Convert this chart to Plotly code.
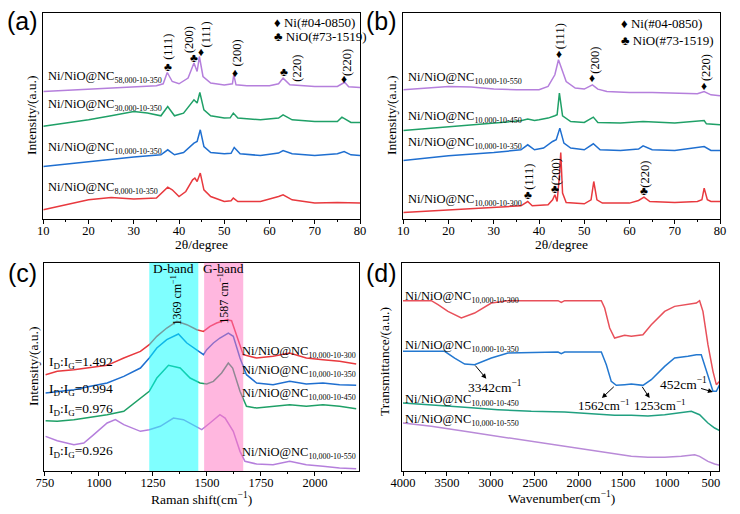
import plotly.graph_objects as go

W, H = 740, 514
FONT = "Times New Roman, Liberation Serif, serif"

# ---------------- Panel (a): XRD, different molecular weights ----------------
a58_x = [10, 15, 20, 25, 30, 35, 36.5, 37.4, 38.5, 40, 42, 43.3, 44.0, 44.5, 45.3, 47, 50, 51.8, 52.1, 52.6, 55, 60, 62, 63, 64.5, 70, 75, 76, 76.6, 77.5, 80]
a58_y = [127.8, 129, 130.2, 131.2, 132.2, 133.5, 135.5, 146.8, 137.8, 135.5, 141.2, 156.2, 147.8, 162.8, 142.8, 136.2, 134.2, 135.5, 144.5, 134.5, 133.5, 133.5, 135.5, 141.2, 134.5, 132.8, 132.8, 135.5, 137, 132.5, 131.8]
a30_x = [10, 15, 20, 25, 30, 33, 36, 37.5, 39, 41, 43.3, 44.0, 44.6, 45.5, 47, 50, 51.3, 52, 53, 58, 62, 63, 65, 70, 75, 76, 78, 80]
a30_y = [93, 96.2, 99.5, 103.5, 107.8, 106.2, 103.5, 112.8, 103.5, 106.2, 119.5, 116.2, 126.8, 109.5, 103.5, 101.2, 101.5, 106.2, 101.2, 99.5, 101.2, 104.5, 99.5, 97.8, 97.8, 102.2, 96.8, 96.8]
a10_x = [10, 20, 30, 36, 37.5, 39, 41, 43.3, 44.0, 44.7, 45.5, 47, 50, 51.5, 52.2, 53.5, 58, 62, 63, 65, 70, 75, 76.5, 78, 80]
a10_y = [52.8, 57.8, 62.2, 64.5, 69.5, 64.5, 66.8, 76.2, 77.8, 89.5, 72.8, 66.8, 65.5, 66, 71.8, 65.5, 63.8, 66.2, 68.8, 65.5, 63.8, 65.5, 67.8, 64.5, 63.8]
a8_x = [10, 15, 20, 25, 30, 35, 36.5, 37.5, 38.5, 40, 41.5, 43, 43.5, 44.0, 44.7, 45.5, 47, 50, 51.5, 52, 53, 58, 62, 63, 65, 70, 75, 80]
a8_y = [9.5, 14.5, 19.5, 21.8, 20.2, 21.2, 27.8, 32.2, 29.5, 22.8, 27.8, 39.5, 41.2, 37.8, 46.2, 29.5, 22.8, 17.8, 18.5, 21.2, 17.8, 17.8, 22.8, 24.5, 19.5, 16.2, 16.8, 16.2]
a_names = ["58,000-10-350", "30,000-10-350", "10,000-10-350", "8,000-10-350"]
a_label_y = [142.8, 114.5, 71.2, 31.2]

# ---------------- Panel (b): XRD, different temperatures ----------------
b550_x = [10, 15, 20, 25, 30, 35, 40, 42, 43.5, 44.3, 45, 46, 48, 50, 51.8, 53, 55, 60, 65, 70, 75, 76.5, 78, 80]
b550_y = [129.5, 131.2, 132.8, 132.2, 130.2, 129.5, 129.5, 132.8, 144.5, 159.5, 151.2, 137.8, 131.2, 130.2, 134.5, 130.2, 127.8, 126.8, 126.8, 126.2, 125.5, 127.8, 124.5, 123.5]
b450_x = [10, 20, 30, 36, 37.5, 39, 40, 42, 43.5, 44.0, 44.5, 45.2, 47, 50, 52, 53, 58, 63, 70, 76.5, 77, 80]
b450_y = [88.8, 92.8, 96.2, 98.5, 100.2, 98.8, 99.5, 101.2, 103.5, 104.5, 126.2, 103.5, 97.8, 96.8, 102.2, 96.8, 96.2, 97.8, 96.2, 98.8, 95.5, 94.5]
b350_x = [10, 20, 30, 36, 37.5, 39, 41, 43, 43.8, 44.6, 45.5, 47, 50, 52, 53.5, 58, 62, 63, 65, 70, 76.5, 78, 80]
b350_y = [58.8, 63.5, 66.8, 69.5, 74.5, 69.5, 71.2, 77.8, 79.5, 91.2, 76.2, 71.2, 69.5, 75.5, 69.5, 68.8, 70.2, 73.5, 69.5, 68.8, 72.8, 68.8, 68.8]
b300_x = [10, 20, 30, 36, 37.5, 38.5, 42, 43, 43.5, 44, 44.5, 44.8, 45.2, 46, 50, 51.5, 52.1, 52.8, 54, 60, 62, 63.2, 64.5, 70, 75, 76, 76.5, 77.2, 78, 80]
b300_y = [6.8, 9.5, 12.2, 13.5, 17.8, 13.5, 14.5, 19.5, 24.5, 17.8, 42.8, 66.8, 26.2, 16.8, 15.5, 19.5, 37.8, 19.5, 16.2, 16.2, 18.8, 22.2, 17.8, 16.8, 17.8, 19.5, 31.2, 19.5, 17.8, 17.8]
b_names = ["10,000-10-550", "10,000-10-450", "10,000-10-350", "10,000-10-300"]
b_label_y = [141.2, 102.2, 76.2, 19.5]

# ---------------- Panel (c): Raman ----------------
c300_x = [753, 807, 884, 961, 1038, 1115, 1192, 1233, 1268, 1314, 1361, 1407, 1453, 1484, 1514, 1545, 1591, 1614, 1637, 1668, 1730, 1806, 1883, 1960, 2037, 2114, 2191]
c300_y = [286, 296, 301, 308, 314, 336, 356, 376, 401, 426, 446, 436, 421, 416, 431, 441, 451, 448, 406, 346, 336, 341, 351, 336, 331, 326, 318]
c350_x = [753, 807, 884, 961, 1038, 1115, 1192, 1233, 1268, 1314, 1368, 1407, 1453, 1484, 1499, 1530, 1560, 1599, 1622, 1653, 1683, 1730, 1806, 1883, 1960, 2037, 2114, 2191]
c350_y = [231, 236, 241, 251, 261, 281, 306, 336, 366, 391, 408, 381, 361, 346, 361, 381, 396, 411, 401, 336, 286, 261, 256, 266, 258, 261, 256, 254]
c450_x = [753, 807, 884, 961, 1038, 1115, 1192, 1233, 1268, 1322, 1376, 1422, 1468, 1499, 1530, 1568, 1599, 1619, 1653, 1683, 1730, 1806, 1883, 1960, 2037, 2114, 2191]
c450_y = [148, 146, 151, 158, 166, 176, 216, 236, 276, 314, 306, 276, 261, 258, 266, 291, 321, 306, 236, 191, 186, 191, 196, 191, 196, 191, 184]
c550_x = [753, 807, 884, 930, 976, 1038, 1076, 1115, 1192, 1233, 1284, 1345, 1391, 1437, 1476, 1514, 1560, 1584, 1622, 1653, 1676, 1730, 1806, 1883, 1960, 2037, 2114, 2191]
c550_y = [101, 88, 76, 81, 106, 141, 151, 136, 116, 121, 131, 156, 151, 136, 121, 141, 166, 156, 116, 56, 26, 18, 16, 26, 16, 11, 6, 4]
c_names = ["10,000-10-300", "10,000-10-350", "10,000-10-450", "10,000-10-550"]
c_label_y = [353, 296, 228, 51]
c_ratio = ["1.492", "0.994", "0.976", "0.926"]
c_ratio_y = [324, 243, 181, 56]
d_band = [1233, 1460]
g_band = [1487, 1668]

# ---------------- Panel (d): FTIR ----------------
d300_x = [4000, 3678, 3602, 3489, 3337, 3186, 2996, 2807, 2238, 2201, 2163, 1746, 1708, 1651, 1595, 1481, 1405, 1273, 1178, 1026, 913, 761, 666, 629, 591, 534, 477, 439, 401]
d300_y = [508, 508, 496, 476, 456, 471, 501, 508, 508, 503, 508, 508, 486, 426, 396, 404, 401, 406, 436, 476, 491, 496, 501, 508, 476, 376, 296, 256, 266]
d350_x = [4000, 3527, 3413, 3299, 3186, 2996, 2807, 2238, 2201, 2163, 1746, 1689, 1633, 1576, 1481, 1405, 1273, 1178, 1026, 913, 761, 666, 610, 553, 477, 439, 401]
d350_y = [356, 356, 336, 318, 316, 336, 351, 354, 349, 354, 354, 316, 266, 254, 256, 258, 254, 271, 311, 336, 341, 346, 346, 296, 236, 236, 256]
d450_x = [4000, 3678, 3299, 2920, 2542, 2163, 1973, 1784, 1595, 1405, 1216, 1026, 837, 723, 629, 534, 458, 401]
d450_y = [201, 196, 188, 181, 176, 174, 171, 168, 164, 164, 162, 166, 171, 176, 166, 141, 126, 118]
d550_x = [4000, 3678, 3299, 2920, 2542, 2163, 1784, 1595, 1405, 1216, 1026, 837, 685, 629, 534, 458, 401]
d550_y = [141, 131, 116, 101, 86, 71, 56, 48, 41, 38, 38, 41, 46, 41, 26, 18, 14]
d_names = ["10,000-10-300", "10,000-10-350", "10,000-10-450", "10,000-10-550"]
d_label_y = [518, 371, 211, 151]

COLORS = ["#b57fdc", "#1fa067", "#1f6fd0", "#e8393e"]  # purple, green, blue, red
D_COLORS = {"300": "#e8505a", "350": "#2378d0", "450": "#20a080", "550": "#b98ad8"}

fig = go.Figure()

def add_line(x, y, color, ax):
    fig.add_trace(go.Scatter(x=x, y=y, mode="lines", line=dict(color=color, width=1.5),
                             xaxis="x" + ax, yaxis="y" + ax, showlegend=False, hoverinfo="skip"))

for (x, y), col in zip([(a58_x, a58_y), (a30_x, a30_y), (a10_x, a10_y), (a8_x, a8_y)], COLORS):
    add_line(x, y, col, "")
for (x, y), col in zip([(b550_x, b550_y), (b450_x, b450_y), (b350_x, b350_y), (b300_x, b300_y)], COLORS):
    add_line(x, y, col, "2")
for (x, y), col in zip([(c300_x, c300_y), (c350_x, c350_y), (c450_x, c450_y), (c550_x, c550_y)], COLORS[::-1]):
    add_line(x, y, col, "3")
for (x, y), col in zip([(d300_x, d300_y), (d350_x, d350_y), (d450_x, d450_y), (d550_x, d550_y)],
                       [D_COLORS["300"], D_COLORS["350"], D_COLORS["450"], D_COLORS["550"]]):
    add_line(x, y, col, "4")

def px(xp):
    return xp / W

def py(yp):
    return (H - yp) / H

tickfont = dict(family=FONT, size=12.5, color="black")

def xax(dom, rng, dtick, mdtick, tickvals=None):
    d = dict(domain=dom, range=rng, showline=True, linecolor="black", linewidth=1.2, mirror=True,
             ticks="outside", ticklen=4, tickwidth=1, tickcolor="black", tickfont=tickfont,
             showgrid=False, zeroline=False, dtick=dtick, automargin=False, ticklabelstandoff=-4,
             minor=dict(dtick=mdtick, ticks="outside", ticklen=2, tickcolor="black", showgrid=False))
    if tickvals is not None:
        d["tickvals"] = tickvals
        d.pop("dtick")
    return d

def yax(dom, rng, anchor):
    return dict(domain=dom, range=rng, showline=True, linecolor="black", linewidth=1.2, mirror=True,
                showticklabels=False, ticks="", showgrid=False, zeroline=False, anchor=anchor,
                automargin=False)

ydom_top = [py(219.3), py(13.3)]
ydom_bot = [py(471), py(262.7)]

layout = dict(
    width=W, height=H, margin=dict(l=0, r=0, t=0, b=0, pad=0, autoexpand=False),
    paper_bgcolor="white", plot_bgcolor="white", showlegend=False,
    font=dict(family=FONT, size=13, color="black"),
    xaxis=dict(xax([px(43.3), px(360)], [10, 80], 10, 5), anchor="y"),
    yaxis=yax(ydom_top, [0, 206], "x"),
    xaxis2=dict(xax([px(403.3), px(720)], [10, 80], 10, 5), anchor="y2"),
    yaxis2=yax(ydom_top, [0, 206], "x2"),
    xaxis3=dict(xax([px(44.3), px(359)], [747, 2204], 250, 125, [750, 1000, 1250, 1500, 1750, 2000]), anchor="y3"),
    yaxis3=yax(ydom_bot, [-3, 622], "x3"),
    xaxis4=dict(xax([px(402.3), px(719.3)], [4008, 405], 500, 250), anchor="y4", autorange=False),
    yaxis4=yax(ydom_bot, [-3, 622], "x4"),
)
layout["xaxis4"]["minor"]["tick0"] = 0
fig.update_layout(**layout)

ann = []
shapes = []

def txt(text, x, y, ax="", size=13, xanchor="center", yanchor="middle", angle=0, family=FONT, color="black"):
    ann.append(dict(text=text, x=x, y=y, xref="x" + ax, yref="y" + ax, showarrow=False,
                    xanchor=xanchor, yanchor=yanchor, textangle=angle,
                    font=dict(family=family, size=size, color=color)))

def ptxt(text, x, y, size=13, xanchor="center", yanchor="middle", angle=0, family=FONT):
    ann.append(dict(text=text, x=px(x), y=py(y), xref="paper", yref="paper", showarrow=False,
                    xanchor=xanchor, yanchor=yanchor, textangle=angle,
                    font=dict(family=family, size=size, color="black")))

def sample(name):
    return "Ni/NiO@NC<sub><span style='font-size:8px'>%s</span></sub>" % name

# panel labels
for lab, x, y in [("(a)", 22, 21), ("(b)", 382, 21), ("(c)", 22, 273), ("(d)", 382, 273)]:
    ptxt(lab, x, y, size=25, family="Liberation Sans, Arial, sans-serif")

# axis titles
ptxt("2θ/degree", 201.5, 245, size=13.5)
ptxt("2θ/degree", 561.5, 245, size=13.5)
ptxt("Raman shift(cm<sup>−1</sup>)", 201, 498, size=13.5)
ptxt("Wavenumber(cm<sup>−1</sup>)", 561, 497, size=13.5)
ptxt("Intensity/(a.u.)", 32, 116, size=13.5, angle=-90)
ptxt("Intensity/(a.u.)", 392, 116, size=13.5, angle=-90)
ptxt("Intensity/(a.u.)", 33, 367, size=13.5, angle=-90)
ptxt("Transmittance/(a.u.)", 385, 362, size=13.5, angle=-90)

# legends (a), (b)
ptxt("♦ Ni(#04-0850)", 272, 22.7, size=13, xanchor="left")
ptxt("♣ NiO(#73-1519)", 272, 36.7, size=13, xanchor="left")
ptxt("♦ Ni(#04-0850)", 619, 24, size=13, xanchor="left")
ptxt("♣ NiO(#73-1519)", 619, 40.7, size=13, xanchor="left")

# series labels
for name, y in zip(a_names, a_label_y):
    txt(sample(name), 10.7, y, "", size=12.5, xanchor="left")
for name, y in zip(b_names, b_label_y):
    txt(sample(name), 10.7, y, "2", size=12.5, xanchor="left")
for name, y in zip(c_names, c_label_y):
    txt(sample(name), 2198, y, "3", size=12.5, xanchor="right")
for r, y in zip(c_ratio, c_ratio_y):
    txt("I<sub><span style='font-size:9px'>D</span></sub>:I<sub><span style='font-size:9px'>G</span></sub>=%s" % r,
        761, y, "3", size=13.5, xanchor="left")
for name, y in zip(d_names, d_label_y):
    txt(sample(name), 4000, y, "4", size=12.5, xanchor="left")

# peak markers (a), (b)
club, diam = "♣", "♦"
a_marks = [(club, 37.5, 152.8, "(111)", 37.5, 172.2), (club, 43.4, 161.8, "(200)", 42.2, 180.2),
           (diam, 44.9, 167.2, "(111)", 45.9, 184.5), (diam, 52.3, 146.2, "(200)", 52.8, 166.8),
           (club, 63.1, 147.8, "(220)", 66.0, 151.2), (diam, 76.4, 140.2, "(220)", 77.0, 156.8)]
b_marks = [(diam, 44.5, 165.5, "(111)", 44.6, 182.8), (diam, 51.6, 141.2, "(200)", 52.2, 158.8),
           (diam, 76.5, 133.5, "(220)", 76.9, 152.2), (club, 37.5, 24.5, "(111)", 37.6, 42.8),
           (club, 43.5, 30.2, "(200)", 43.7, 47.8), (club, 63.3, 28.5, "(220)", 63.4, 45.5)]
for ax, marks in (("", a_marks), ("2", b_marks)):
    for sym, sx, sy, t, tx, ty in marks:
        txt(sym, sx, sy, ax, size=12)
        txt(t, tx, ty, ax, size=12.5, angle=-90)

# Raman bands
for (x0, x1), col in ((d_band, "rgba(0,255,255,0.5)"), (g_band, "rgba(255,112,192,0.5)")):
    shapes.append(dict(type="rect", xref="x3", yref="y3 domain", x0=x0, x1=x1, y0=0, y1=1,
                       fillcolor=col, line=dict(width=0), layer="above"))
txt("D-band", sum(d_band) / 2, 604, "3", size=13.5)
txt("G-band", sum(g_band) / 2, 604, "3", size=13.5)
txt("1369 cm<sup>−1</sup>", 1361, 511, "3", size=12, angle=-90)
txt("1587 cm<sup>−1</sup>", 1573, 516, "3", size=12, angle=-90)

# FTIR annotations
txt("3342cm<sup>−1</sup>", 2958, 251, "4", size=13.5)
txt("1562cm<sup>−1</sup>", 1720, 196, "4", size=13)
txt("1253cm<sup>−1</sup>", 1076, 196, "4", size=13)
txt("452cm<sup>−1</sup>", 811, 259, "4", size=13.5)
for (tx, ty, hx, hy) in [(3193, 318, 3053, 274), (1587, 254, 1739, 216), (1292, 254, 1197, 216), (629, 246, 477, 234)]:
    ann.append(dict(text="", x=hx, y=hy, ax=tx, ay=ty, xref="x4", yref="y4", axref="x4", ayref="y4",
                    showarrow=True, arrowhead=2, arrowsize=1, arrowwidth=1, arrowcolor="black"))

fig.update_layout(annotations=ann, shapes=shapes)
fig.write_html("out.html", config={"displayModeBar": False},
               post_script="document.body.style.margin='0';document.body.style.overflow='hidden';")
